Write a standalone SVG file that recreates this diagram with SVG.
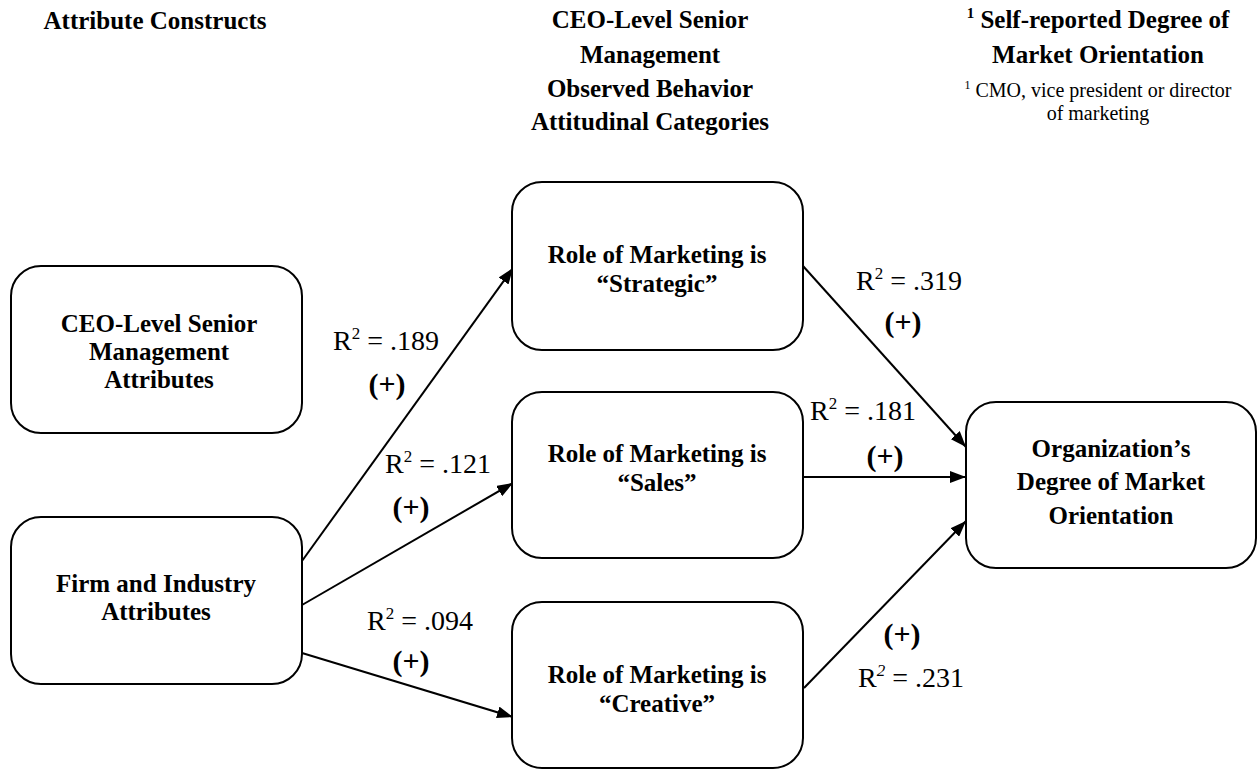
<svg xmlns="http://www.w3.org/2000/svg" width="1259" height="770" viewBox="0 0 1259 770">
<style>
.box{fill:#fff;stroke:#000;stroke-width:2}
.nt{font-family:"Liberation Serif","Times New Roman",serif;font-weight:bold;font-size:25px;text-anchor:middle;fill:#000}
.hd{font-family:"Liberation Serif","Times New Roman",serif;font-weight:bold;font-size:25px;text-anchor:middle;fill:#000}
.sm{font-family:"Liberation Serif","Times New Roman",serif;font-size:20px;text-anchor:middle;fill:#000}
.r2{font-family:"Liberation Serif","Times New Roman",serif;font-size:28px;fill:#000}
.pl{font-family:"Liberation Serif","Times New Roman",serif;font-weight:bold;font-size:30px;text-anchor:middle;fill:#000}
.cn{stroke:#000;stroke-width:2;fill:none;marker-end:url(#ah)}
</style>
<defs>
<marker id="ah" markerUnits="userSpaceOnUse" markerWidth="16" markerHeight="12" viewBox="0 0 16 12" refX="16" refY="6" orient="auto">
<path d="M0,0 L16,6 L0,12 Z" fill="#000"/>
</marker>
</defs>
<rect width="1259" height="770" fill="#fff"/>

<g id="headers">
<text class="hd" x="155" y="29">Attribute Constructs</text>
<text class="hd" x="650" y="28">CEO-Level Senior</text>
<text class="hd" x="650" y="63">Management</text>
<text class="hd" x="650" y="97">Observed Behavior</text>
<text class="hd" x="650" y="130">Attitudinal Categories</text>
<text class="hd" x="1098" y="28"><tspan font-size="15" dy="-10">1</tspan><tspan dy="10"> Self-reported Degree of</tspan></text>
<text class="hd" x="1098" y="63">Market Orientation</text>
<text class="sm" x="1098" y="97"><tspan font-size="12" dy="-8">1</tspan><tspan dy="8"> CMO, vice president or director</tspan></text>
<text class="sm" x="1098" y="120">of marketing</text>
</g>

<g id="connectors">
<line class="cn" x1="302" y1="561" x2="513" y2="268"/>
<line class="cn" x1="302" y1="605" x2="513" y2="483"/>
<line class="cn" x1="302" y1="653" x2="513" y2="717"/>
<line class="cn" x1="803" y1="266" x2="966" y2="447"/>
<line class="cn" x1="803" y1="477" x2="966" y2="477"/>
<line class="cn" x1="804" y1="688" x2="966" y2="521"/>
</g>

<g id="node-ceo">
<rect class="box" x="11" y="266" width="291" height="167" rx="30"/>
<text class="nt" x="159" y="332">CEO-Level Senior</text>
<text class="nt" x="159" y="360">Management</text>
<text class="nt" x="159" y="388">Attributes</text>
</g>
<g id="node-firm">
<rect class="box" x="11" y="517" width="291" height="167" rx="30"/>
<text class="nt" x="156" y="592">Firm and Industry</text>
<text class="nt" x="156" y="620">Attributes</text>
</g>
<g id="node-strategic">
<rect class="box" x="512" y="182" width="291" height="168" rx="30"/>
<text class="nt" x="657" y="263">Role of Marketing is</text>
<text class="nt" x="657" y="292">“Strategic”</text>
</g>
<g id="node-sales">
<rect class="box" x="512" y="392" width="291" height="166" rx="30"/>
<text class="nt" x="657" y="462">Role of Marketing is</text>
<text class="nt" x="657" y="491">“Sales”</text>
</g>
<g id="node-creative">
<rect class="box" x="512" y="602" width="291" height="166" rx="30"/>
<text class="nt" x="657" y="683">Role of Marketing is</text>
<text class="nt" x="657" y="712">“Creative”</text>
</g>
<g id="node-org">
<rect class="box" x="966" y="402" width="290" height="166" rx="30"/>
<text class="nt" x="1111" y="457">Organization’s</text>
<text class="nt" x="1111" y="490">Degree of Market</text>
<text class="nt" x="1111" y="524">Orientation</text>
</g>

<g id="labels">
<text class="r2" x="333" y="350">R<tspan font-size="17" dy="-11">2</tspan><tspan dy="11"> = .189</tspan></text>
<text class="pl" x="387" y="394">(+)</text>
<text class="r2" x="856" y="290">R<tspan font-size="17" dy="-11">2</tspan><tspan dy="11"> = .319</tspan></text>
<text class="pl" x="903" y="332">(+)</text>
<text class="r2" x="810" y="420">R<tspan font-size="17" dy="-11">2</tspan><tspan dy="11"> = .181</tspan></text>
<text class="pl" x="885" y="466">(+)</text>
<text class="r2" x="385" y="473">R<tspan font-size="17" dy="-11">2</tspan><tspan dy="11"> = .121</tspan></text>
<text class="pl" x="411" y="517">(+)</text>
<text class="r2" x="367" y="630">R<tspan font-size="17" dy="-11">2</tspan><tspan dy="11"> = .094</tspan></text>
<text class="pl" x="411" y="671">(+)</text>
<text class="pl" x="902" y="644">(+)</text>
<text class="r2" x="858" y="687">R<tspan font-size="17" font-style="italic" dy="-11">2</tspan><tspan dy="11"> = .231</tspan></text>
</g>
</svg>
